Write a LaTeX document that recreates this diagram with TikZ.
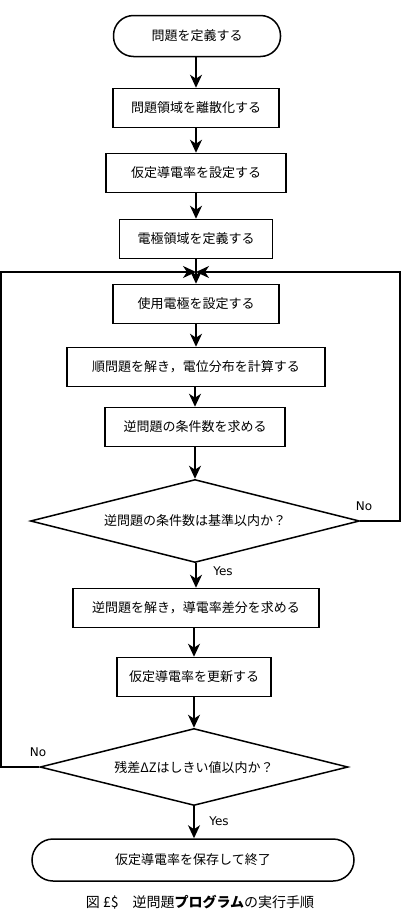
\documentclass[tikz,border=0pt]{standalone}
\usepackage{fontspec}
\setmainfont{Noto Sans CJK JP}
\newfontfamily\latinfont{DejaVu Sans}
\usetikzlibrary{shapes.geometric,arrows.meta}
\begin{document}
\begin{tikzpicture}[x=1pt,y=-1pt,
  every node/.style={inner sep=0pt},
  box/.style={draw, line width=1.5pt, minimum height=39pt, font=\fontsize{13}{15}\selectfont},
  term/.style={box, rounded corners=20pt, minimum height=41pt},
  dec/.style={draw, line width=1.5pt, diamond, font=\fontsize{13}{15}\selectfont},
  lab/.style={font=\latinfont\fontsize{12}{14}\selectfont},
  arr/.style={line width=1.5pt, -{Stealth[length=13pt,width=12pt,inset=4pt]}},
  ln/.style={line width=1.5pt}
]
\useasboundingbox (0,0) rectangle (402,910);
\node[term, minimum width=167pt] (s) at (197,36) {問題を定義する};
\node[box, minimum width=166pt] (b2) at (196,108) {問題領域を離散化する};
\node[box, minimum width=180pt] (b3) at (196,173) {仮定導電率を設定する};
\node[box, minimum width=153pt] (b4) at (196,239) {電極領域を定義する};
\node[box, minimum width=166pt] (b5) at (196,304) {使用電極を設定する};
\node[box, minimum width=258pt] (b6) at (196,367) {順問題を解き，電位分布を計算する};
\node[box, minimum width=180pt] (b7) at (195,427) {逆問題の条件数を求める};
\node[dec, aspect=3.96, minimum width=329pt, minimum height=83pt] (d1) at (195,521) {逆問題の条件数は基準以内か？};
\node[box, minimum width=246pt] (b8) at (196,608) {逆問題を解き，導電率差分を求める};
\node[box, minimum width=154pt] (b9) at (194,677) {仮定導電率を更新する};
\node[dec, aspect=4, minimum width=308pt, minimum height=77pt] (d2) at (194,767) {残差ΔZはしきい値以内か？};
\node[term, minimum width=322pt, minimum height=42pt, rounded corners=21pt] (e) at (193,860) {仮定導電率を保存して終了};
\coordinate (m) at (196,272);
\coordinate (rc) at (400,272);
\coordinate (lc) at (1,272);

\draw[arr] (s.south -| b2.north) -- (b2.north);
\draw[arr] (b2) -- (b3);
\draw[arr] (b3) -- (b4);
\draw[arr] (b4) -- (b5);
\draw[arr] (b5) -- (b6);
\draw[arr] (b6.south -| b7.north) -- (b7.north);
\draw[arr] (b7) -- (d1);
\draw[arr] (d1.south -| b8.north) -- (b8.north);
\draw[arr] (b8.south -| b9.north) -- (b9.north);
\draw[arr] (b9) -- (d2);
\draw[arr] (d2) -- (e.north -| d2.south);
\draw[arr] (d1.east) -| (rc) -- (m);
\draw[arr] (d2.west) -| (lc) -- (m);

\node[lab] (no1) at (364,506) {No};
\node[lab] (yes1) at (223,571) {Yes};
\node[lab] (no2) at (38,752) {No};
\node[lab] (yes2) at (219,821) {Yes};

\node[anchor=south, font=\fontsize{14}{16}\selectfont] (cap) at (200,909) {図 £\$　逆問題{\bfseries プログラム}の実行手順};
\end{tikzpicture}
\end{document}
